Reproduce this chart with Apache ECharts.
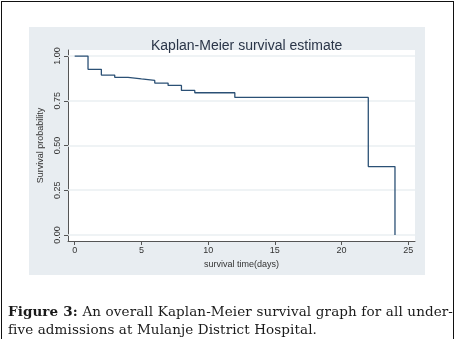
<!DOCTYPE html>
<html>
<head>
<meta charset="utf-8">
<script src="https://cdn.jsdelivr.net/npm/echarts@6/dist/echarts.min.js"></script>
<style>
  html, body { margin:0; padding:0; background:#fff; }
  #wrap { position:relative; width:464px; height:339px; overflow:hidden; }
  #border { position:absolute; left:1px; top:1px; width:453px; height:360px; border:1.5px solid #111; box-sizing:border-box; }
  #panel { position:absolute; left:29px; top:27px; width:396px; height:248px; background:#e8edf1; }
  #chart { position:absolute; left:0; top:0; width:464px; height:339px; }
  #caption { position:absolute; left:8px; top:302px; width:445px; font-family:"DejaVu Serif", "Liberation Serif", serif; font-size:13.5px; line-height:18px; color:#1a1a1a; letter-spacing:0.1px; }
  #caption .l1 { text-align:justify; text-align-last:justify; white-space:nowrap; display:block; }
  #caption b { font-weight:bold; }
</style>
</head>
<body>
<div id="wrap">
  <div id="border"></div>
  <div id="panel"></div>
  <div id="chart"></div>
  <div id="caption">
    <div class="l1" id="cap1"></div>
    <div id="cap2"></div>
  </div>
</div>
<script>
// ---- data ----
var titleText = "Kaplan-Meier survival estimate";
var xTitle = "survival time(days)";
var yTitle = "Survival probability";
var times = [0, 1, 2, 3, 4, 5, 6, 7, 8, 9, 12, 22, 24];
var survival = [1.000, 0.926, 0.894, 0.881, 0.872, 0.864, 0.849, 0.836, 0.808, 0.795, 0.769, 0.382, 0.000];
var xTicks = [0, 5, 10, 15, 20, 25];
var yTicks = [0, 0.25, 0.5, 0.75, 1];
var captionLabel = "Figure 3:";
var captionLine1 = " An overall Kaplan-Meier survival graph for all under-";
var captionLine2 = "five admissions at Mulanje District Hospital.";

// caption
var c1 = document.getElementById('cap1');
var b = document.createElement('b'); b.textContent = captionLabel;
c1.appendChild(b);
c1.appendChild(document.createTextNode(captionLine1));
document.getElementById('cap2').textContent = captionLine2;

var seriesData = times.map(function (t, i) { return [t, survival[i]]; });

var chart = echarts.init(document.getElementById('chart'), null, { renderer: 'canvas' });
chart.setOption({
  backgroundColor: 'transparent',
  animation: false,
  title: {
    text: titleText,
    left: 146, top: 34,
    textStyle: { fontFamily: 'Liberation Sans, Arial, sans-serif', fontSize: 14, fontWeight: 'normal', color: '#2a3548' }
  },
  grid: { left: 68, right: 49, top: 50, bottom: 98, show: true, backgroundColor: '#ffffff', borderWidth: 0 },
  xAxis: {
    type: 'value', min: -0.5, max: 25.5,
    name: xTitle, nameLocation: 'middle', nameGap: 15,
    nameTextStyle: { fontFamily: 'Liberation Sans, Arial, sans-serif', fontSize: 9, color: '#333' },
    axisLine: { show: true, onZero: false, lineStyle: { color: '#555', width: 1 } },
    axisTick: { show: true, length: 4, inside: false, customValues: xTicks, lineStyle: { color: '#555' } },
    axisLabel: { customValues: xTicks, margin: 5, fontFamily: 'Liberation Sans, Arial, sans-serif', fontSize: 9, color: '#333' },
    splitLine: { show: false }
  },
  yAxis: {
    type: 'value', min: -0.034, max: 1.034,
    name: yTitle, nameLocation: 'middle', nameGap: 21, nameRotate: 90,
    nameTextStyle: { fontFamily: 'Liberation Sans, Arial, sans-serif', fontSize: 9, color: '#333' },
    axisLine: { show: true, onZero: false, lineStyle: { color: '#555', width: 1 } },
    axisTick: { show: true, length: 4, inside: false, customValues: yTicks, lineStyle: { color: '#555' } },
    axisLabel: { customValues: yTicks, rotate: 90, margin: 6, fontFamily: 'Liberation Sans, Arial, sans-serif', fontSize: 9, color: '#333',
      formatter: function (v) { return v.toFixed(2); } },
    splitLine: { show: false }
  },
  series: [{
    type: 'line',
    step: 'end',
    data: seriesData,
    showSymbol: false,
    symbol: 'none',
    lineStyle: { color: '#2b5075', width: 1.3 },
    markLine: {
      silent: true, symbol: 'none', label: { show: false },
      lineStyle: { color: '#eaeff2', width: 1.5, type: 'solid' },
      z: 1,
      data: yTicks.map(function (v) { return { yAxis: v }; })
    },
    z: 5
  }]
});
</script>
</body>
</html>
